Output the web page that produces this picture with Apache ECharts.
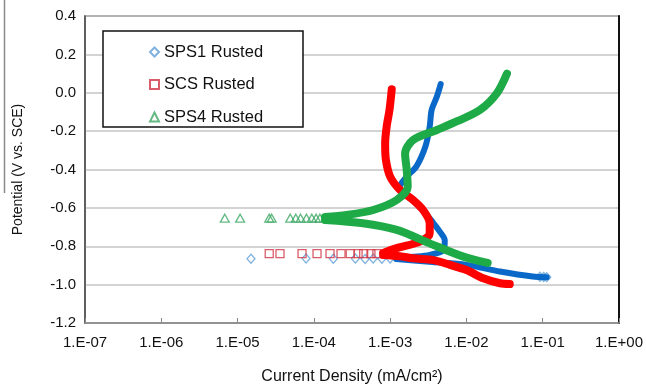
<!DOCTYPE html>
<html><head><meta charset="utf-8">
<script src="https://cdn.jsdelivr.net/npm/echarts@6/dist/echarts.min.js"></script>
<style>html,body{margin:0;padding:0;background:#fff}#c{width:646px;height:386px}</style>
</head><body><div id="c"></div>
<script>
// ---- data (current density mA/cm2, potential V vs SCE) ----
const seriesNames = ['SPS1 Rusted', 'SCS Rusted', 'SPS4 Rusted'];
const xTickExponents = [-7, -6, -5, -4, -3, -2, -1, 0];
const yTickValues = [-1.2, -1.0, -0.8, -0.6, -0.4, -0.2, 0.0, 0.2, 0.4];

const sps1Anodic = [[1.2e-3,-0.862],[2.0e-3,-0.855],[3.3e-3,-0.845],[5.0e-3,-0.82],[5.2e-3,-0.77],[4.5e-3,-0.725],[3.7e-3,-0.68],[2.8e-3,-0.62],[1.9e-3,-0.555],[1.3e-3,-0.5],[1.65e-3,-0.437],[2.2e-3,-0.385],[2.9e-3,-0.28],[3.3e-3,-0.177],[3.5e-3,-0.09],[4.1e-3,-0.02],[4.6e-3,0.045]];
const sps1Cathodic = [[1.2e-3,-0.866],[3.6e-3,-0.882],[1.0e-2,-0.897],[2.75e-2,-0.932],[7.4e-2,-0.958],[0.113,-0.961]];
const sps1Sparse = [[1.5e-5,-0.865],[7.9e-5,-0.864],[1.8e-4,-0.865],[3.5e-4,-0.864],[4.7e-4,-0.866],[6.0e-4,-0.864],[7.8e-4,-0.865],[1.0e-3,-0.864],[0.092,-0.959],[0.103,-0.96],[0.113,-0.961]];

const scsAnodic = [[8.1e-4,-0.835],[1.22e-3,-0.81],[2.45e-3,-0.776],[3.3e-3,-0.733],[3.3e-3,-0.68],[2.7e-3,-0.611],[2.0e-3,-0.559],[1.35e-3,-0.507],[1.0e-3,-0.437],[8.8e-4,-0.35],[8.6e-4,-0.263],[9.0e-4,-0.177],[9.8e-4,-0.09],[1.05e-3,0.018]];
const scsCathodic = [[8.1e-4,-0.845],[1.35e-3,-0.852],[2.0e-3,-0.863],[3.7e-3,-0.872],[6.1e-3,-0.897],[1.0e-2,-0.924],[1.66e-2,-0.967],[2.75e-2,-0.993],[3.7e-2,-0.997]];
const scsSparse = [[2.6e-5,-0.838],[3.6e-5,-0.838],[7.0e-5,-0.838],[1.1e-4,-0.838],[1.63e-4,-0.838],[2.27e-4,-0.838],[3.0e-4,-0.838],[3.8e-4,-0.838],[4.5e-4,-0.838],[5.6e-4,-0.838],[6.7e-4,-0.838]];

const sps4Anodic = [[1.4e-4,-0.648],[2.7e-4,-0.637],[6.0e-4,-0.611],[1.22e-3,-0.559],[1.7e-3,-0.49],[1.65e-3,-0.403],[1.57e-3,-0.316],[2.0e-3,-0.246],[4.1e-3,-0.194],[7.7e-3,-0.147],[1.5e-2,-0.09],[2.5e-2,-0.003],[3.4e-2,0.1]];
const sps4Cathodic = [[1.4e-4,-0.663],[4.4e-4,-0.68],[1.22e-3,-0.715],[3.3e-3,-0.785],[9.1e-3,-0.854],[1.9e-2,-0.887]];
const sps4Sparse = [[6.8e-6,-0.654],[1.08e-5,-0.654],[2.6e-5,-0.654],[2.8e-5,-0.654],[4.9e-5,-0.654],[5.8e-5,-0.654],[6.7e-5,-0.654],[8.0e-5,-0.654],[9.4e-5,-0.654],[1.07e-4,-0.654],[1.2e-4,-0.654]];

// ---- styles ----
const lineColors = ['#0a68c8', '#ff0000', '#1faa48'];
const markColors = ['#5f9fd6', '#d23344', '#3fa865'];
const symbols = ['diamond', 'rect', 'triangle'];
const symbolSizes = [[8, 9], [8, 8], [9, 8]];
const lineWidths = [6, 8, 8];
const FONT = '"Liberation Sans", Arial, sans-serif';

const branches = [
  [sps1Anodic, sps1Cathodic, sps1Sparse],
  [scsAnodic, scsCathodic, scsSparse],
  [sps4Anodic, sps4Cathodic, sps4Sparse]
];

const series = [];
branches.forEach((b, i) => {
  [b[0], b[1]].forEach((d, k) => {
    series.push({
      type: 'line', name: seriesNames[i] + (k ? ' c' : ' a'), data: d,
      showSymbol: false, smooth: 0.3, silent: true, z: 2 + i,
      lineStyle: { width: lineWidths[i], color: lineColors[i], cap: 'round', join: 'round' },
      itemStyle: { color: lineColors[i] }
    });
  });
});
branches.forEach((b, i) => {
  series.push({
    type: 'scatter', name: seriesNames[i], data: b[2], symbol: symbols[i],
    symbolSize: symbolSizes[i], z: 1, silent: true,
    itemStyle: { color: 'rgba(255,255,255,0)', borderColor: markColors[i], borderWidth: 1.3 }
  });
});

function fmtExp(v) {
  const e = Math.round(Math.log10(v));
  const a = Math.abs(e);
  return '1.E' + (e < 0 ? '-' : '+') + (a < 10 ? '0' : '') + a;
}

const chart = echarts.init(document.getElementById('c'), null, { renderer: 'canvas' });
chart.setOption({
  animation: false,
  backgroundColor: '#fff',
  grid: { left: 85, right: 27, top: 16, bottom: 63, outerBoundsMode: 'none', containLabel: false, show: true, borderColor: '#555', borderWidth: 1.5, backgroundColor: 'transparent' },
  legend: {
    data: seriesNames, orient: 'vertical', left: 144, top: 38, z: 20,
    itemWidth: 9, itemHeight: 9, itemGap: 14.5, selectedMode: false,
    textStyle: { fontFamily: FONT, fontSize: 16.5, color: '#111', lineHeight: 18 }
  },
  xAxis: [{
    type: 'log', logBase: 10, min: Math.pow(10, xTickExponents[0]), max: Math.pow(10, xTickExponents[xTickExponents.length - 1]), interval: 1,
    name: 'Current Density (mA/cm²)', nameLocation: 'middle', nameGap: 46,
    nameTextStyle: { fontFamily: FONT, fontSize: 16, color: '#111' },
    axisLine: { show: true, onZero: false, lineStyle: { color: '#888', width: 1.5 } },
    axisTick: { show: true, inside: true, length: 5, lineStyle: { color: '#888' } },
    axisLabel: { formatter: fmtExp, margin: 12, fontFamily: FONT, fontSize: 15, color: '#111', showMinLabel: true, showMaxLabel: true },
    splitLine: { show: false }, minorTick: { show: false }
  }],
  yAxis: [{
    type: 'value', min: yTickValues[0], max: yTickValues[yTickValues.length - 1], interval: 0.2,
    name: 'Potential (V vs. SCE)', nameLocation: 'middle', nameGap: 60, nameRotate: 90,
    nameTextStyle: { fontFamily: FONT, fontSize: 14, color: '#111' },
    axisLine: { show: true, onZero: false, lineStyle: { color: '#555', width: 1.5 } },
    axisTick: { show: false },
    axisLabel: { formatter: v => (Math.abs(v) < 1e-9 ? 0 : v).toFixed(1), margin: 9, fontFamily: FONT, fontSize: 15, color: '#111' },
    splitLine: { show: true, lineStyle: { color: '#c4c4c4', width: 1.5 } }
  }, {
    type: 'value', position: 'right', min: yTickValues[0], max: yTickValues[yTickValues.length - 1], interval: 0.2,
    axisLine: { show: true, onZero: false, lineStyle: { color: '#111', width: 2 } },
    axisTick: { show: false }, axisLabel: { show: false }, splitLine: { show: false }
  }],
  graphic: [
    { type: 'rect', z: 15, shape: { x: 103, y: 31, width: 200, height: 96 }, style: { fill: '#fff', stroke: '#111', lineWidth: 1.5 } },
    { type: 'line', z: 15, shape: { x1: 4.5, y1: 0, x2: 4.5, y2: 193 }, style: { stroke: '#8a8a8a', lineWidth: 1.5 } }
  ],
  series: series
});
</script>
</body></html>
